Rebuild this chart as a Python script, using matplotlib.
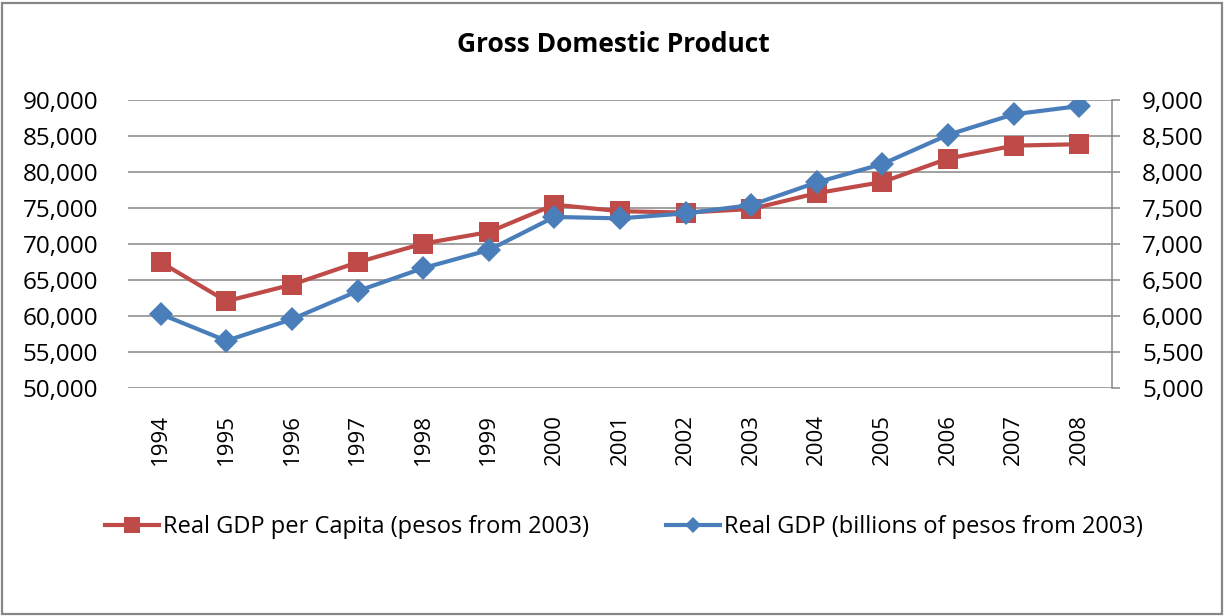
import matplotlib
matplotlib.use("Agg")
import matplotlib.pyplot as plt
from matplotlib.lines import Line2D
from matplotlib.patches import Rectangle
from matplotlib.ticker import FuncFormatter

plt.rcParams['font.family'] = ['Open Sans', 'DejaVu Sans']

years = ['1994', '1995', '1996', '1997', '1998', '1999', '2000', '2001',
         '2002', '2003', '2004', '2005', '2006', '2007', '2008']
gdp_per_capita = [67500, 62100, 64400, 67500, 70100, 71700, 75500, 74600,
                  74400, 74900, 77100, 78650, 81900, 83700, 83900]
gdp_billions = [6030, 5660, 5960, 6350, 6670, 6920, 7380, 7360,
                7430, 7545, 7860, 8115, 8520, 8805, 8920]
left_ticks = [50000, 55000, 60000, 65000, 70000, 75000, 80000, 85000, 90000]
right_ticks = [5000, 5500, 6000, 6500, 7000, 7500, 8000, 8500, 9000]

red = '#BE4B48'
blue = '#4A7EBB'
grey = '#868686'
W, H = 1225, 616

fig = plt.figure(figsize=(W / 100, H / 100), dpi=100)
fig.patches.append(Rectangle((2 / W, 2 / H), 1 - 5 / W, 1 - 5 / H, transform=fig.transFigure,
                             fill=False, edgecolor=grey, lw=1.6))

ax = fig.add_axes([128 / W, 1 - 388.3 / H, 984 / W, 288 / H])
ax2 = ax.twinx()
x = range(len(years))

ax.plot(x, gdp_per_capita, color=red, lw=3, marker='s', markersize=14.4,
        markeredgewidth=0, zorder=3)
ax2.plot(x, gdp_billions, color=blue, lw=3, marker='D', markersize=12,
         markeredgewidth=0, zorder=3)

ax.set_xlim(-0.5, len(years) - 0.5)
ax.set_ylim(50000, 90000)
ax2.set_ylim(5000, 9000)
ax.set_yticks(left_ticks)
ax2.set_yticks(right_ticks)
fmt = FuncFormatter(lambda v, p: f'{int(v):,}')
ax.yaxis.set_major_formatter(fmt)
ax2.yaxis.set_major_formatter(fmt)
ax.set_xticks(list(x))
ax.set_xticklabels(years, rotation=90)

ax.grid(axis='y', color=grey, lw=1.1)
ax.set_axisbelow(True)
for s in ['left', 'top', 'bottom']:
    ax.spines[s].set_visible(False)
    ax2.spines[s].set_visible(False)
ax.spines['right'].set_visible(False)
ax2.spines['right'].set_color(grey)
ax2.spines['right'].set_linewidth(1.1)

ax.tick_params(axis='y', length=0, pad=21.6, labelsize=17.5)
ax.tick_params(axis='x', length=0, pad=18.5, labelsize=16)
ax2.tick_params(axis='y', length=5.8, width=1.1, color=grey, direction='out',
                pad=15.8, labelsize=17.5)

fig.text(613 / W, 1 - 45 / H, 'Gross Domestic Product', ha='center', va='center',
         fontsize=19, fontweight='bold')

h_red = Line2D([], [], color=red, lw=3, marker='s', markersize=11, markeredgewidth=0)
h_blue = Line2D([], [], color=blue, lw=3, marker='D', markersize=8, markeredgewidth=0)
for h, lab, xpos in [(h_red, 'Real GDP per Capita (pesos from 2003)', 105),
                     (h_blue, 'Real GDP (billions of pesos from 2003)', 666)]:
    fig.legend([h], [lab], loc='center left', bbox_to_anchor=(xpos / W, 1 - 527 / H),
               frameon=False, borderpad=0, borderaxespad=0, fontsize=17,
               handlelength=2.3, handletextpad=0.17)

fig.savefig('out.png', dpi=100)
